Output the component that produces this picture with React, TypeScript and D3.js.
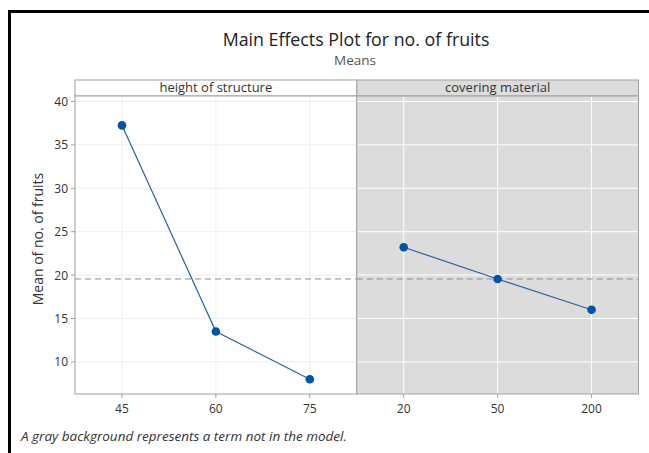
import * as d3 from "d3";

// factor levels and mean responses
const heightLevels = ["45", "60", "75"];
const heightMeans = [37.25, 13.5, 8.0];
const coverLevels = ["20", "50", "200"];
const coverMeans = [23.2, 19.55, 16.0];
const grandMean = 19.55;
const yTicks = [10, 15, 20, 25, 30, 35, 40];

const panels = [
  { name: "height of structure", levels: heightLevels, means: heightMeans, gray: false },
  { name: "covering material", levels: coverLevels, means: coverMeans, gray: true },
];

const W = 649;
const H = 453;
const left = 75;
const right = 638.5;
const stripTop = 80;
const top = 96;
const bottom = 394;
const font = "'Segoe UI', 'Open Sans', 'Noto Sans', sans-serif";

export default function App() {
  const y = d3.scaleLinear().domain([6.3, 40.63]).range([bottom, top]);
  const pw = (right - left) / panels.length;
  const line = d3.line<number>();

  return (
    <svg width={W} height={H} style={{ position: "absolute", left: 0, top: 0, background: "#fff" }} fontFamily={font}>
      <rect x={9.5} y={11.5} width={W + 10} height={H + 10} fill="#fff" stroke="#000" strokeWidth={3} />
      <text x={356} y={45.5} textAnchor="middle" fontSize={17.8} fill="#222">Main Effects Plot for no. of fruits</text>
      <text x={355} y={65} textAnchor="middle" fontSize={13.5} fill="#555">Means</text>

      {panels.map((p, i) => {
        const x0 = left + i * pw;
        const x = d3.scalePoint<string>().domain(p.levels).range([x0, x0 + pw]).padding(0.5);
        const grid = p.gray ? "#fff" : "#eeeeee";
        const pts = p.levels.map((l, k) => [x(l) as number, y(p.means[k])] as [number, number]);
        return (
          <g key={p.name}>
            <rect x={x0} y={stripTop} width={pw} height={top - stripTop} fill={p.gray ? "#dcdcdc" : "#fff"} stroke="#a0a0a0" />
            <text x={x0 + pw / 2} y={92} textAnchor="middle" fontSize={13} fill="#333">{p.name}</text>
            <rect x={x0} y={top} width={pw} height={bottom - top} fill={p.gray ? "#dcdcdc" : "#fff"} />
            {yTicks.map((t) => (
              <line key={t} x1={x0} x2={x0 + pw} y1={y(t)} y2={y(t)} stroke={grid} strokeWidth={1} />
            ))}
            {p.levels.map((l) => (
              <line key={l} x1={x(l)} x2={x(l)} y1={top} y2={bottom} stroke={grid} strokeWidth={1} />
            ))}
            <line x1={x0} x2={x0 + pw} y1={y(grandMean)} y2={y(grandMean)} stroke="#8c8c8c" strokeDasharray="6,4" />
            <path d={line(pts) ?? ""} fill="none" stroke="#2462a2" strokeWidth={1.2} />
            {pts.map((d, k) => (
              <circle key={k} cx={d[0]} cy={d[1]} r={4.3} fill="#0054a6" />
            ))}
            <rect x={x0} y={top} width={pw} height={bottom - top} fill="none" stroke="#a0a0a0" />
            {p.levels.map((l) => (
              <g key={"t" + l}>
                <line x1={x(l)} x2={x(l)} y1={bottom} y2={bottom + 4} stroke="#a0a0a0" />
                <text x={x(l)} y={413} textAnchor="middle" fontSize={12} fill="#333">{l}</text>
              </g>
            ))}
          </g>
        );
      })}

      {yTicks.map((t) => (
        <g key={t}>
          <line x1={left - 4} x2={left} y1={y(t)} y2={y(t)} stroke="#a0a0a0" />
          <text x={68} y={y(t) + 4.5} textAnchor="end" fontSize={12} fill="#333">{t}</text>
        </g>
      ))}
      <text transform={`translate(42.5,239) rotate(-90)`} textAnchor="middle" fontSize={14} fill="#333">Mean of no. of fruits</text>
      <text x={21} y={441} fontSize={13.5} fontStyle="italic" fill="#333">A gray background represents a term not in the model.</text>
    </svg>
  );
}
